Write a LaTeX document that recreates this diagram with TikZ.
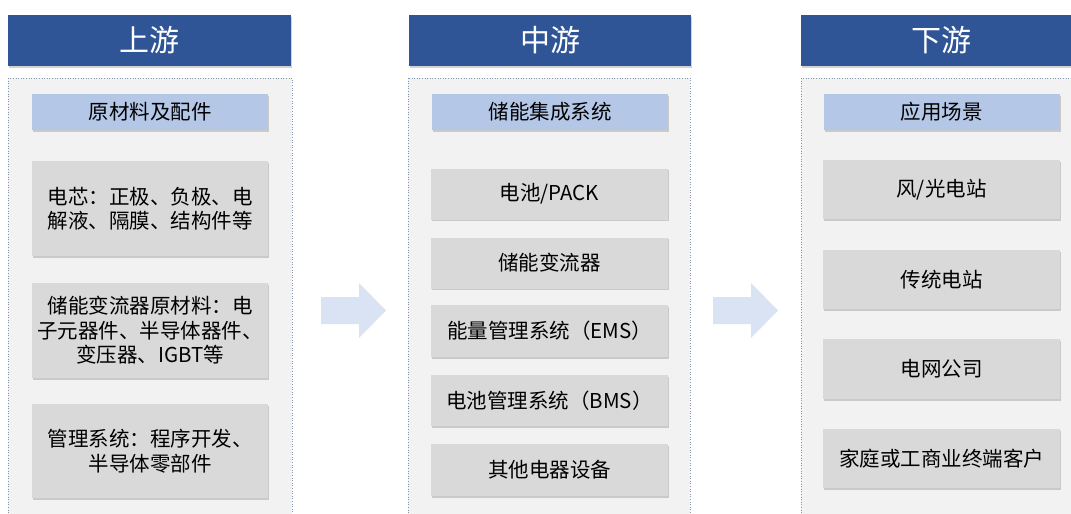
\documentclass[tikz,border=0pt]{standalone}
\usepackage{fontspec}
\setmainfont{Noto Sans CJK SC}
\usetikzlibrary{shadows}
\definecolor{hdrblue}{HTML}{2F5597}
\definecolor{subblue}{HTML}{B4C7E7}
\definecolor{boxgray}{HTML}{D9D9D9}
\definecolor{panelgray}{HTML}{F2F2F2}
\definecolor{panelline}{HTML}{8497B0}
\definecolor{arrowblue}{HTML}{DAE3F3}
\tikzset{
  hdr/.style={fill=hdrblue, draw=none, text=white, font=\fontsize{30}{33}\selectfont,
    minimum height=51pt, inner sep=0pt,
    drop shadow={shadow xshift=1pt, shadow yshift=-1.5pt, opacity=0.35}},
  panel/.style={fill=panelgray, draw=panelline, dotted, line width=0.6pt},
  subhdr/.style={fill=subblue, draw=none, text=black, font=\fontsize{20.5}{23}\selectfont,
    minimum width=236pt, minimum height=36pt, inner sep=0pt,
    drop shadow={shadow xshift=1pt, shadow yshift=-1.5pt, opacity=0.35}},
  itembox/.style={fill=boxgray, draw=none, text=black, font=\fontsize{20.5}{24.5}\selectfont,
    align=center, minimum width=237pt, inner sep=0pt,
    drop shadow={shadow xshift=1pt, shadow yshift=-1.5pt, opacity=0.35}},
  flowarrow/.style={fill=arrowblue, draw=none}
}
\begin{document}
\begin{tikzpicture}[x=1pt,y=-1pt]
\useasboundingbox (0,0) rectangle (1071,514);
\clip (0,0) rectangle (1071,514);
\fill[white] (0,0) rectangle (1071,514);

% headers
\node[hdr, minimum width=283pt] (h1) at (149.5,40.5) {上游};
\node[hdr, minimum width=282pt] (h2) at (550,40.5) {中游};
\node[hdr, minimum width=280pt] (h3) at (941,40.5) {下游};

% panels
\draw[panel] (8,78) rectangle (292,530);
\draw[panel] (408,78) rectangle (690,530);
\draw[panel] (801,78) rectangle (1090,530);

% sub-headers
\node[subhdr] (s1) at (150,112) {原材料及配件};
\node[subhdr] (s2) at (550,112) {储能集成系统};
\node[subhdr] (s3) at (941.5,112) {应用场景};

% upstream boxes
\node[itembox, minimum width=236pt, minimum height=95pt] (u1) at (150,208.5) {电芯：正极、负极、电\\解液、隔膜、结构件等};
\node[itembox, minimum width=236pt, minimum height=95pt] (u2) at (150,330.5) {储能变流器原材料：电\\子元器件、半导体器件、\\变压器、IGBT等};
\node[itembox, minimum width=236pt, minimum height=94pt] (u3) at (150,451) {管理系统：程序开发、\\半导体零部件};

% midstream boxes
\node[itembox, minimum height=51pt] (m1) at (549.5,194) {电池/PACK};
\node[itembox, minimum height=51pt] (m2) at (549.5,263) {储能变流器};
\node[itembox, minimum height=52pt] (m3) at (549.5,331) {能量管理系统（EMS）};
\node[itembox, minimum height=51pt] (m4) at (549.5,400.5) {电池管理系统（BMS）};
\node[itembox, minimum height=52pt] (m5) at (549.5,470) {其他电器设备};

% downstream boxes
\node[itembox, minimum height=59pt] (d1) at (941.5,189.5) {风/光电站};
\node[itembox, minimum height=59pt] (d2) at (941.5,279.5) {传统电站};
\node[itembox, minimum height=60pt] (d3) at (941.5,369) {电网公司};
\node[itembox, minimum height=59pt] (d4) at (941.5,458.5) {家庭或工商业终端客户};

% flow arrows
\fill[flowarrow] (321,297) -- (359,297) -- (359,283) -- (386,310.5) -- (359,338) -- (359,324) -- (321,324) -- cycle;
\fill[flowarrow] (713,297) -- (751,297) -- (751,283) -- (778,310.5) -- (751,338) -- (751,324) -- (713,324) -- cycle;
\end{tikzpicture}
\end{document}
